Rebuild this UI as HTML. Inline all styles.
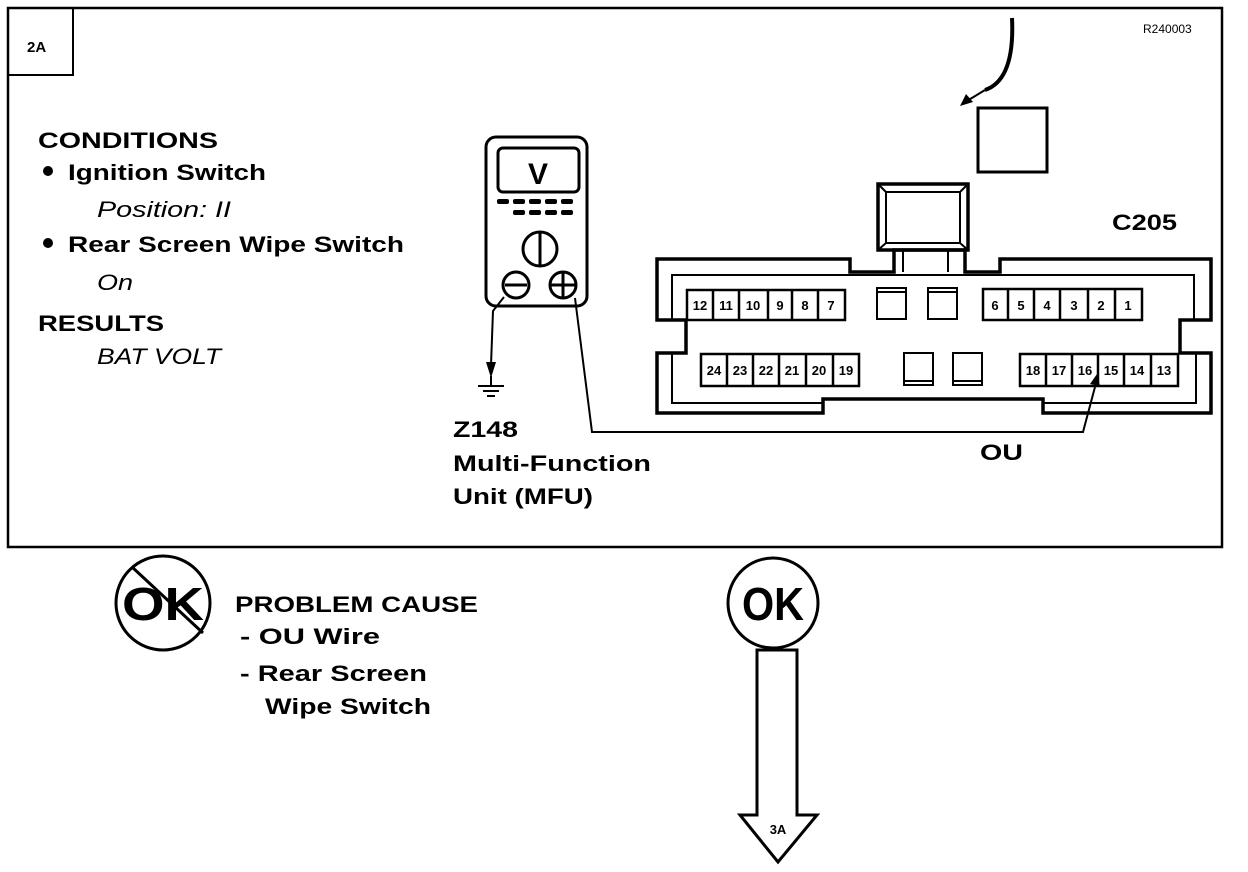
<!DOCTYPE html>
<html><head><meta charset="utf-8"><style>
html,body{margin:0;padding:0;background:#fff}
svg{display:block}
text{font-family:"Liberation Sans",Arial,sans-serif;font-weight:bold;fill:#000}
.i{font-style:italic;font-weight:normal}
</style></head><body>
<svg width="1248" height="872" viewBox="0 0 1248 872" xmlns="http://www.w3.org/2000/svg">
<rect x="8" y="8" width="1214" height="539" fill="none" stroke="#000" stroke-width="2.5"/>
<rect x="8" y="8" width="65" height="67" fill="none" stroke="#000" stroke-width="2"/>
<text x="27" y="52" font-size="15">2A</text>
<text x="1143" y="33" font-size="12" style="font-weight:normal">R240003</text>

<text x="38" y="148" font-size="22" textLength="180" lengthAdjust="spacingAndGlyphs">CONDITIONS</text>
<circle cx="48" cy="171" r="5"/>
<text x="68" y="180" font-size="22" textLength="198" lengthAdjust="spacingAndGlyphs">Ignition Switch</text>
<text x="97" y="217" font-size="22" class="i" textLength="134" lengthAdjust="spacingAndGlyphs">Position: II</text>
<circle cx="48" cy="243" r="5"/>
<text x="68" y="252" font-size="22" textLength="336" lengthAdjust="spacingAndGlyphs">Rear Screen Wipe Switch</text>
<text x="97" y="290" font-size="22" class="i" textLength="36" lengthAdjust="spacingAndGlyphs">On</text>
<text x="38" y="331" font-size="22" textLength="126" lengthAdjust="spacingAndGlyphs">RESULTS</text>
<text x="97" y="364" font-size="22" class="i" textLength="124" lengthAdjust="spacingAndGlyphs">BAT VOLT</text>

<!-- meter -->
<g fill="none" stroke="#000" stroke-width="3">
<rect x="486" y="137" width="101" height="169" rx="10"/>
<rect x="498" y="148" width="81" height="44" rx="5"/>
<circle cx="540" cy="249" r="17"/>
<line x1="540" y1="233" x2="540" y2="265"/>
<circle cx="516" cy="285" r="13"/>
<line x1="505" y1="285" x2="527" y2="285"/>
<circle cx="563" cy="285" r="13"/>
<line x1="550" y1="285" x2="576" y2="285"/>
<line x1="563" y1="272" x2="563" y2="298"/>
</g>
<text x="538" y="184" font-size="30" text-anchor="middle">V</text>
<g fill="#000">
<rect x="497" y="199" width="12" height="5" rx="2"/><rect x="513" y="199" width="12" height="5" rx="2"/><rect x="529" y="199" width="12" height="5" rx="2"/><rect x="545" y="199" width="12" height="5" rx="2"/><rect x="561" y="199" width="12" height="5" rx="2"/>
<rect x="513" y="210" width="12" height="5" rx="2"/><rect x="529" y="210" width="12" height="5" rx="2"/><rect x="545" y="210" width="12" height="5" rx="2"/><rect x="561" y="210" width="12" height="5" rx="2"/>
</g>
<g fill="none" stroke="#000" stroke-width="2">
<path d="M504 297 L493 311 L491 365"/>
<path d="M575 298 L592 432 L1083 432 L1095 387"/>
</g>
<path d="M1012 18 Q1015 80 985 90" fill="none" stroke="#000" stroke-width="4"/>
<polygon points="486,362 496,362 491,378" fill="#000"/>
<line x1="491" y1="376" x2="491" y2="386" stroke="#000" stroke-width="2"/>
<line x1="478" y1="386" x2="504" y2="386" stroke="#000" stroke-width="2"/>
<line x1="483" y1="391" x2="499" y2="391" stroke="#000" stroke-width="2"/>
<line x1="487" y1="396" x2="495" y2="396" stroke="#000" stroke-width="2"/>
<polygon points="1090,384 1100,386 1097,374" fill="#000"/>
<line x1="985" y1="90" x2="962" y2="104" stroke="#000" stroke-width="2"/>
<polygon points="960,106 966,94 973,102" fill="#000"/>
<rect x="978" y="108" width="69" height="64" fill="none" stroke="#000" stroke-width="3"/>

<text x="453" y="437" font-size="22" textLength="65" lengthAdjust="spacingAndGlyphs">Z148</text>
<text x="453" y="471" font-size="22" textLength="198" lengthAdjust="spacingAndGlyphs">Multi-Function</text>
<text x="453" y="504" font-size="22" textLength="140" lengthAdjust="spacingAndGlyphs">Unit (MFU)</text>
<text x="980" y="460" font-size="22" textLength="43" lengthAdjust="spacingAndGlyphs">OU</text>
<text x="1112" y="230" font-size="22" textLength="65" lengthAdjust="spacingAndGlyphs">C205</text>

<!-- connector -->
<g fill="none" stroke="#000" stroke-width="3.5">
<path d="M657 259 L850 259 L850 272 L894 272 L894 250 L965 250 L965 272 L1000 272 L1000 259 L1211 259 L1211 320 L1180 320 L1180 353 L1211 353 L1211 413 L1043 413 L1043 399 L823 399 L823 413 L657 413 L657 353 L686 353 L686 320 L657 320 Z"/>
<rect x="878" y="184" width="90" height="66" stroke-width="3.5"/>
</g>
<g fill="none" stroke="#000" stroke-width="2">
<path d="M672 320 L672 275 L1194 275 L1194 320"/>
<path d="M672 353 L672 403 L823 403 M1043 403 L1196 403 L1196 353"/>
<rect x="886" y="192" width="74" height="51"/>
<line x1="878" y1="184" x2="886" y2="192"/><line x1="968" y1="184" x2="960" y2="192"/>
<line x1="878" y1="250" x2="886" y2="243"/><line x1="968" y1="250" x2="960" y2="243"/>
<line x1="903" y1="250" x2="903" y2="272"/><line x1="948" y1="250" x2="948" y2="272"/>
<rect x="877" y="288" width="29" height="31"/><line x1="877" y1="292" x2="906" y2="292"/>
<rect x="928" y="288" width="29" height="31"/><line x1="928" y1="292" x2="957" y2="292"/>
<rect x="904" y="353" width="29" height="32"/><line x1="904" y1="381" x2="933" y2="381"/>
<rect x="953" y="353" width="29" height="32"/><line x1="953" y1="381" x2="982" y2="381"/>
</g>
<g fill="none" stroke="#000" stroke-width="2.5">
<rect x="687" y="290" width="158" height="30"/>
<rect x="983" y="289" width="159" height="31"/>
<rect x="701" y="354" width="158" height="32"/>
<rect x="1020" y="354" width="158" height="32"/>
<path d="M713 290v30M739 290v30M768 290v30M792 290v30M818 290v30"/>
<path d="M1008 289v31M1034 289v31M1060 289v31M1088 289v31M1115 289v31"/>
<path d="M727 354v32M753 354v32M779 354v32M806 354v32M833 354v32"/>
<path d="M1046 354v32M1072 354v32M1098 354v32M1124 354v32M1151 354v32"/>
</g>
<g font-size="13" text-anchor="middle">
<text x="700" y="310">12</text><text x="726" y="310">11</text><text x="753" y="310">10</text><text x="780" y="310">9</text><text x="805" y="310">8</text><text x="831" y="310">7</text>
<text x="995" y="310">6</text><text x="1021" y="310">5</text><text x="1047" y="310">4</text><text x="1074" y="310">3</text><text x="1101" y="310">2</text><text x="1128" y="310">1</text>
<text x="714" y="375">24</text><text x="740" y="375">23</text><text x="766" y="375">22</text><text x="792" y="375">21</text><text x="819" y="375">20</text><text x="846" y="375">19</text>
<text x="1033" y="375">18</text><text x="1059" y="375">17</text><text x="1085" y="375">16</text><text x="1111" y="375">15</text><text x="1137" y="375">14</text><text x="1164" y="375">13</text>
</g>

<!-- bottom -->
<circle cx="163" cy="603" r="47" fill="none" stroke="#000" stroke-width="3"/>
<text x="163" y="620" font-size="46" text-anchor="middle" textLength="82" lengthAdjust="spacingAndGlyphs">OK</text>
<line x1="132" y1="567" x2="203" y2="633" stroke="#000" stroke-width="3"/>
<text x="235" y="612" font-size="22" textLength="243" lengthAdjust="spacingAndGlyphs">PROBLEM CAUSE</text>
<text x="240" y="644" font-size="22" textLength="140" lengthAdjust="spacingAndGlyphs">-  OU  Wire</text>
<text x="240" y="681" font-size="22" textLength="187" lengthAdjust="spacingAndGlyphs">-  Rear Screen</text>
<text x="265" y="714" font-size="22" textLength="166" lengthAdjust="spacingAndGlyphs">Wipe Switch</text>

<circle cx="773" cy="603" r="45" fill="none" stroke="#000" stroke-width="3"/>
<text x="773" y="620" font-size="46" text-anchor="middle" textLength="62" lengthAdjust="spacingAndGlyphs">OK</text>
<path d="M757 650 L797 650 L797 815 L817 815 L778 862 L740 815 L757 815 Z" fill="none" stroke="#000" stroke-width="3"/>
<text x="778" y="834" font-size="13" text-anchor="middle">3A</text>
</svg>
</body></html>
